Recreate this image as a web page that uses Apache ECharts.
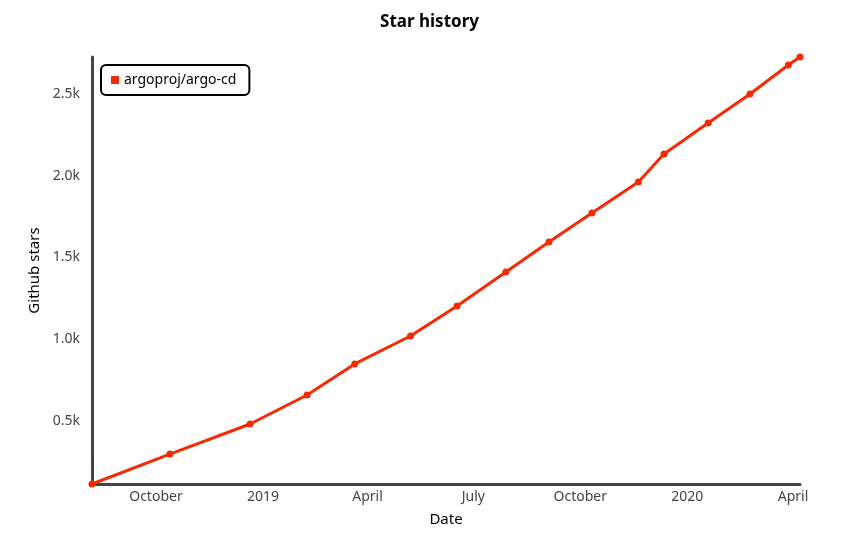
<!DOCTYPE html>
<html>
<head>
<meta charset="utf-8">
<script src="https://cdn.jsdelivr.net/npm/echarts@6/dist/echarts.min.js"></script>
<style>html,body{margin:0;padding:0;background:#fff}#c{width:859px;height:544px}</style>
</head>
<body>
<div id="c"></div>
<script>
const seriesName = 'argoproj/argo-cd';
const dates = ['2018-08-07','2018-10-13','2018-12-21','2019-02-08','2019-03-21','2019-05-08','2019-06-17','2019-07-29','2019-09-04','2019-10-11','2019-11-20','2019-12-12','2020-01-19','2020-02-24','2020-03-28','2020-04-07'];
const stars = [115,298,482,659,849,1020,1203,1411,1595,1772,1962,2133,2323,2500,2677,2726];
const yTicks = [500,1000,1500,2000,2500];
const xTickDates = ['2018-10-01','2019-01-01','2019-04-01','2019-07-01','2019-10-01','2020-01-01','2020-04-01'];
const xTickLabels = ['October','2019','April','July','October','2020','April'];

const DAY = 86400000;
const toDay = d => Math.round(new Date(d + 'T00:00:00Z').getTime() / DAY);
const xTickDays = xTickDates.map(toDay);
const data = dates.map((d, i) => [toDay(d), stars[i]]);
const font = '"Comic Sans MS", "Noto Sans", sans-serif';

const chart = echarts.init(document.getElementById('c'));
chart.setOption({
  animation: false,
  title: {
    text: 'Star history', left: 'center', top: 9,
    textStyle: {fontFamily: font, fontSize: 17, fontWeight: 'bold', color: '#000'}
  },
  legend: {
    left: 101, top: 65,
    padding: [8, 13, 8, 10],
    borderColor: '#000', borderWidth: 2, borderRadius: 5,
    itemWidth: 8, itemHeight: 8, itemGap: 6,
    icon: 'rect',
    textStyle: {fontFamily: font, fontSize: 14, color: '#000'},
    data: [seriesName]
  },
  grid: {left: 92, right: 59, top: 57, bottom: 60},
  xAxis: {
    type: 'value',
    min: data[0][0], max: data[data.length - 1][0],
    name: 'Date', nameLocation: 'middle', nameGap: 28,
    nameTextStyle: {fontFamily: font, fontSize: 15, color: '#000'},
    axisLine: {lineStyle: {color: '#444', width: 3}},
    axisTick: {show: false},
    splitLine: {show: false},
    axisLabel: {
      customValues: xTickDays,
      formatter: function (v) { const i = xTickDays.indexOf(Math.round(v)); return i >= 0 ? xTickLabels[i] : ''; },
      fontFamily: font, fontSize: 14, color: '#444', margin: 6
    }
  },
  yAxis: {
    type: 'value',
    min: stars[0], max: stars[stars.length - 1],
    name: 'Github stars', nameLocation: 'middle', nameGap: 48, nameRotate: 90,
    nameTextStyle: {fontFamily: font, fontSize: 15, color: '#000'},
    axisLine: {show: true, lineStyle: {color: '#444', width: 3}},
    axisTick: {show: false},
    splitLine: {show: false},
    axisLabel: {
      customValues: yTicks,
      formatter: v => (v / 1000).toFixed(1) + 'k',
      fontFamily: font, fontSize: 14, color: '#444', margin: 12
    }
  },
  series: [{
    name: seriesName, type: 'line', data: data,
    symbol: 'circle', symbolSize: 7,
    itemStyle: {color: '#f52a04'},
    lineStyle: {color: '#f52a04', width: 3}
  }]
});
</script>
</body>
</html>
